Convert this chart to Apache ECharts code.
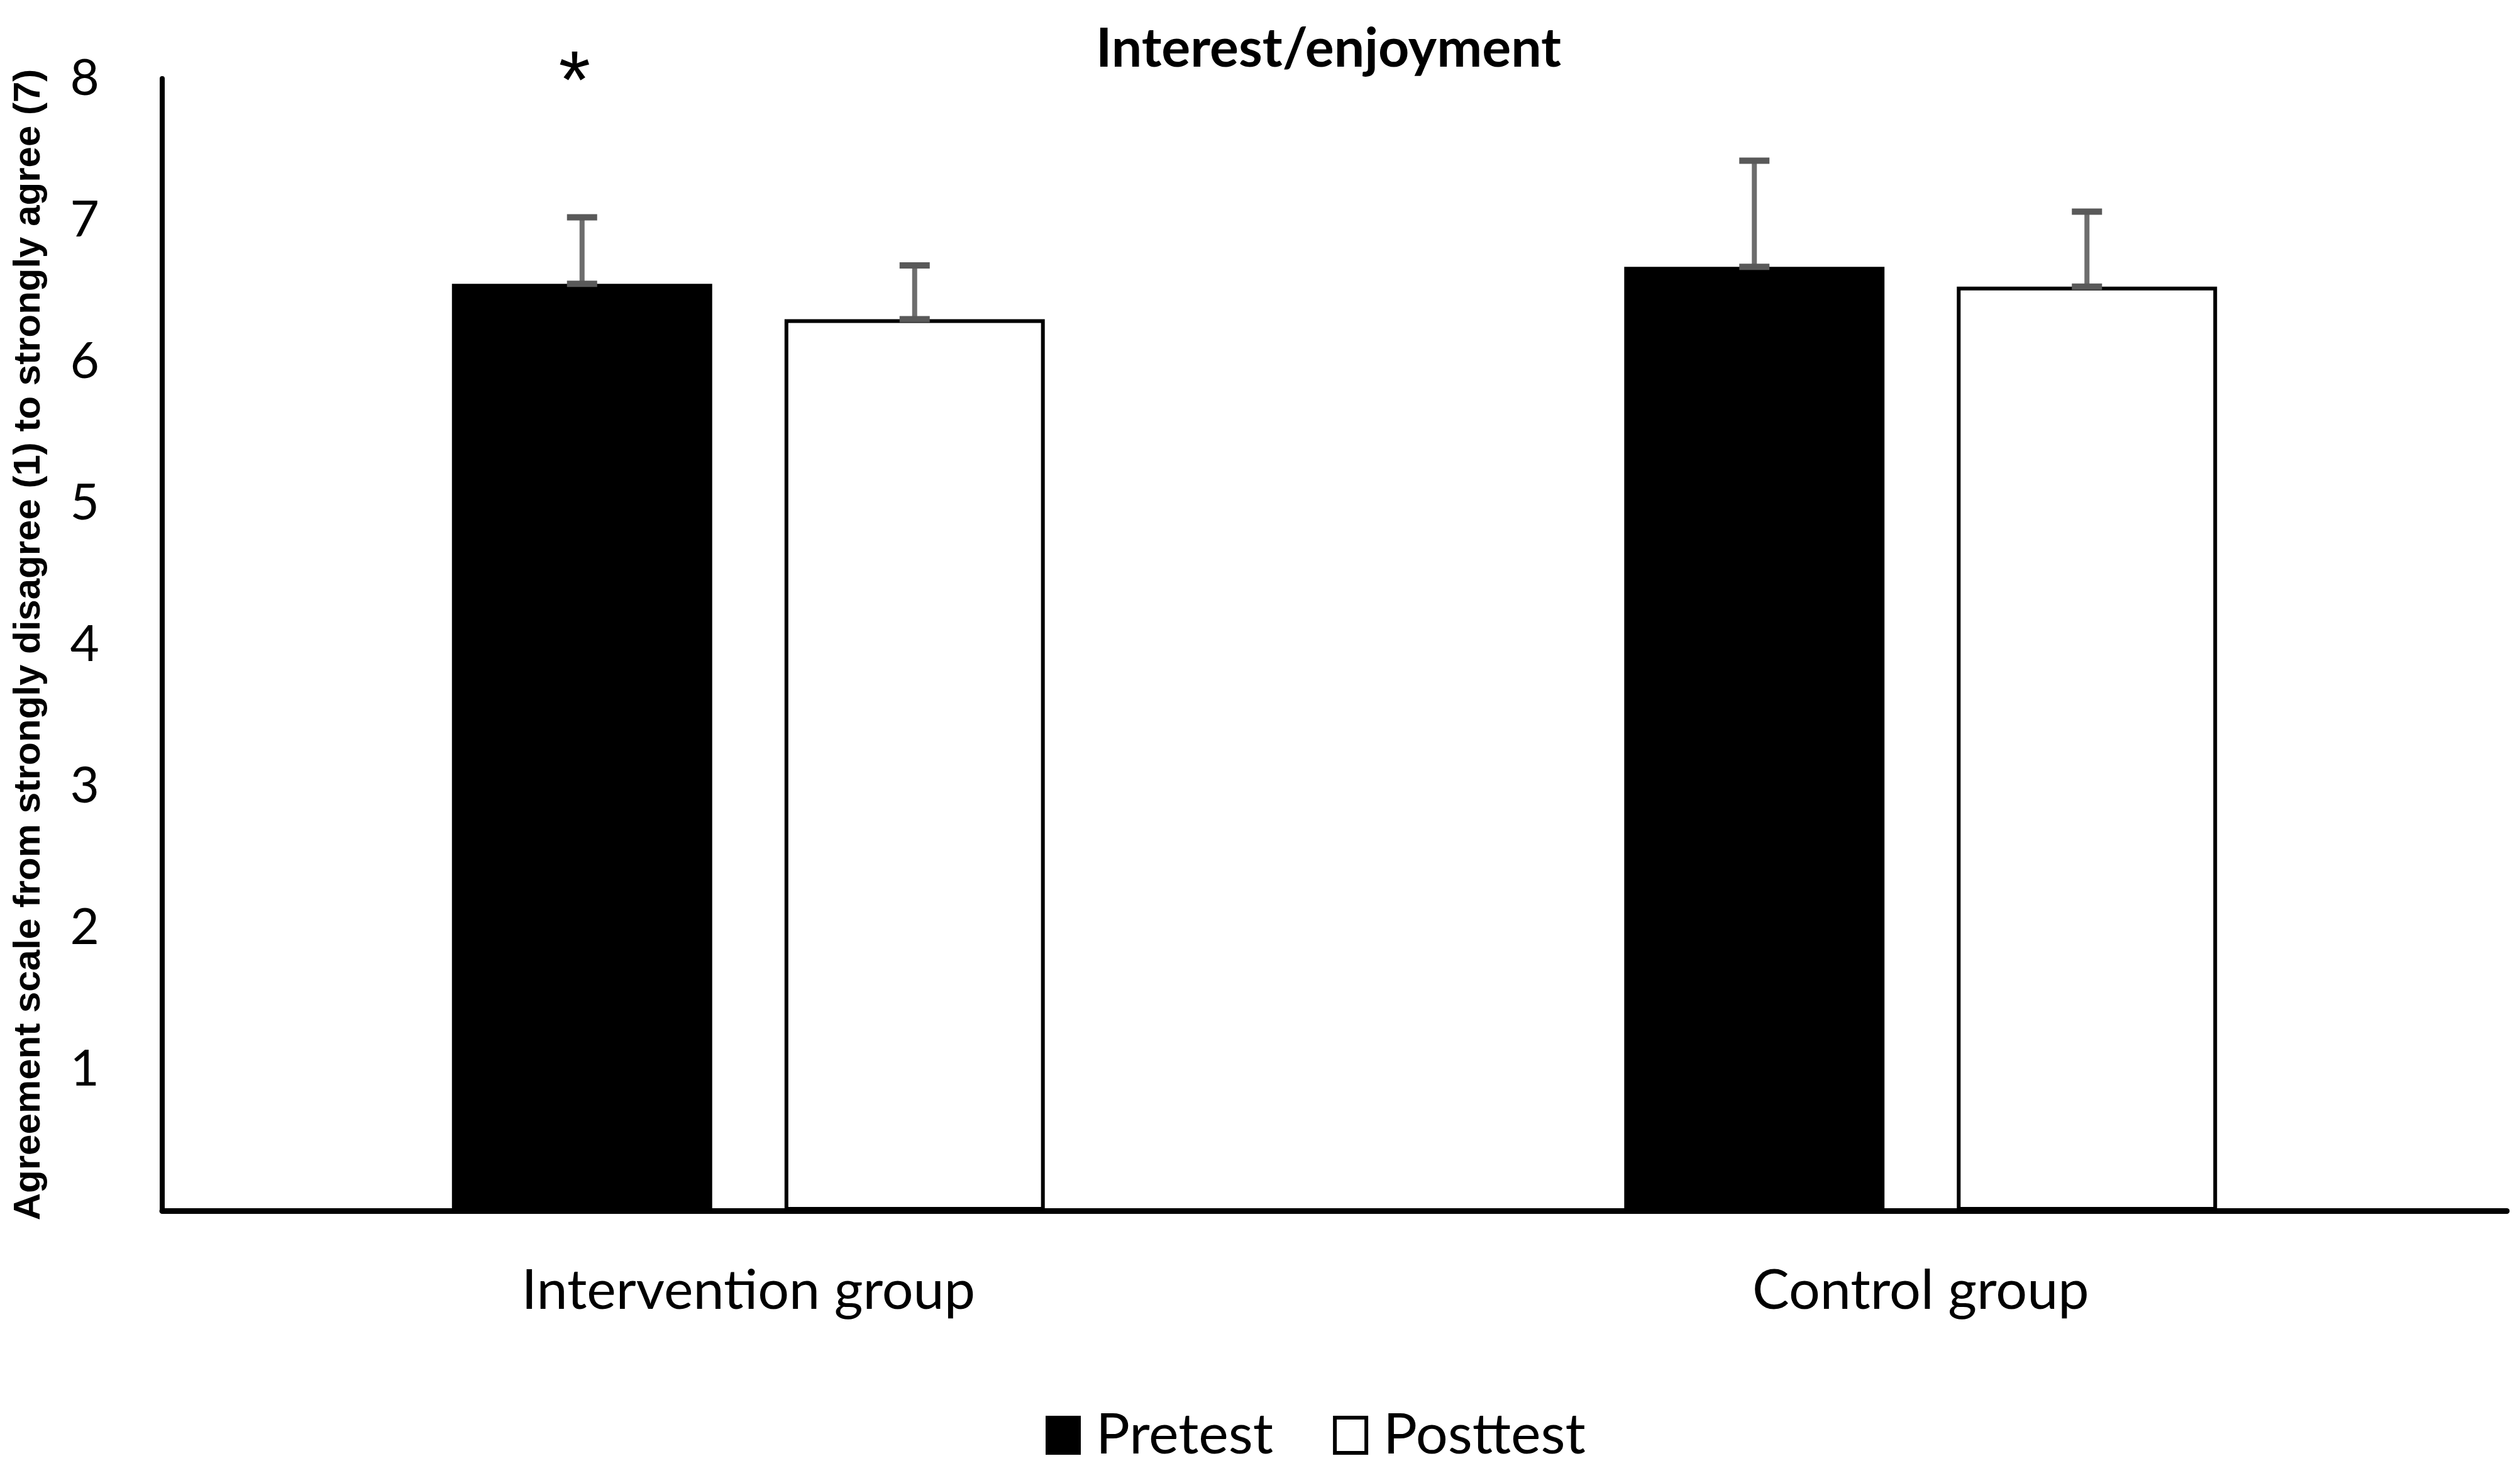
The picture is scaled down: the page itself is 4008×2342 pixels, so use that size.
<!DOCTYPE html>
<html>
<head>
<meta charset="utf-8">
<script src="https://cdn.jsdelivr.net/npm/echarts@6/dist/echarts.min.js"></script>
<style>
html,body{margin:0;padding:0;background:#fff;}
#chart{width:4008px;height:2342px;}
</style>
</head>
<body>
<div id="chart"></div>
<script>
const categories = ['Intervention group', 'Control group'];
const seriesNames = ['Pretest', 'Posttest'];
const pretest = [6.55, 6.67];
const posttest = [6.30, 6.53];
const pretestSD = [0.47, 0.75];
const posttestSD = [0.38, 0.53];
const pretestMarks = ['*', ''];
const markLevel = 7.95;
const yTicks = [0, 1, 2, 3, 4, 5, 6, 7, 8];

const BAR_W = 0.222, BAR_GAP = 0.278;

function errorSeries(values, sds, marks, idx) {
  const data = values.map((v, i) => [i, v, sds[i], marks ? marks[i] : '']);
  return {
    type: 'custom',
    name: seriesNames[idx] + ' SD',
    z: 10,
    silent: true,
    data: data,
    renderItem: function (params, api) {
      const ci = api.value(0), v = api.value(1), sd = api.value(2);
      const band = api.size([1, 0])[0];
      const bw = band * BAR_W;
      const off = (bw + bw * BAR_GAP) / 2 * (idx === 0 ? -1 : 1);
      const base = api.coord([ci, v]);
      const top = api.coord([ci, v + sd]);
      const x = base[0] + off;
      const capW = 48;
      const children = [
        {type: 'line', shape: {x1: x, y1: base[1], x2: x, y2: top[1]}, style: {stroke: '#6d6d6d', lineWidth: 8}},
        {type: 'rect', shape: {x: x - capW / 2, y: top[1] - 5, width: capW, height: 10}, style: {fill: '#595959'}},
        {type: 'rect', shape: {x: x - capW / 2, y: base[1] - 5, width: capW, height: 10}, style: {fill: '#595959'}}
      ];
      const m = data[params.dataIndex][3];
      if (m) {
        const mp = api.coord([ci, markLevel]);
        children.push({type: 'text', x: x - 12, y: mp[1], style: {text: m, fill: '#000', font: '130px "Liberation Sans"', align: 'center', verticalAlign: 'middle'}});
      }
      return {type: 'group', children: children};
    }
  };
}

const chart = echarts.init(document.getElementById('chart'));
chart.setOption({
  backgroundColor: '#ffffff',
  animation: false,
  title: {
    text: 'Interest/enjoyment',
    left: 2108, top: 30, textAlign: 'center',
    textStyle: {fontFamily: 'Lato', fontWeight: 'bold', fontSize: 86, color: '#000'}
  },
  legend: {
    data: seriesNames,
    icon: 'rect',
    left: 1658, top: 2232,
    itemWidth: 50, itemHeight: 56, itemGap: 95,
    textStyle: {fontFamily: 'Lato', fontSize: 90, color: '#000', padding: [0, 0, 0, 22]},
    itemStyle: {borderColor: '#000', borderWidth: 6}
  },
  grid: {left: 258, right: 21, top: 125, bottom: 417},
  xAxis: {
    type: 'category',
    data: categories,
    axisLine: {lineStyle: {color: '#000', width: 9}},
    axisTick: {show: false},
    axisLabel: {fontFamily: 'Lato', fontSize: 88, color: '#000', margin: 84}
  },
  yAxis: {
    type: 'value',
    min: yTicks[0], max: yTicks[yTicks.length - 1], interval: 1,
    name: 'Agreement scale from strongly disagree (1) to strongly agree (7)',
    nameLocation: 'middle', nameRotate: 90, nameGap: 182,
    nameTextStyle: {fontFamily: 'Liberation Sans', fontWeight: 'bold', fontSize: 60, color: '#000'},
    axisLine: {show: true, lineStyle: {color: '#000', width: 8}},
    axisTick: {show: false},
    splitLine: {show: false},
    axisLabel: {fontFamily: 'Lato', fontSize: 80, color: '#000', margin: 100,
      formatter: v => (v === 0 ? '' : String(v))}
  },
  series: [
    {type: 'bar', name: seriesNames[0], data: pretest, barWidth: (BAR_W * 100) + '%', barGap: (BAR_GAP * 100) + '%',
      itemStyle: {color: '#000', borderColor: '#000', borderWidth: 6}},
    {type: 'bar', name: seriesNames[1], data: posttest, barWidth: (BAR_W * 100) + '%', barGap: (BAR_GAP * 100) + '%',
      itemStyle: {color: '#fff', borderColor: '#000', borderWidth: 6}},
    errorSeries(pretest, pretestSD, pretestMarks, 0),
    errorSeries(posttest, posttestSD, null, 1)
  ]
});
</script>
</body>
</html>
